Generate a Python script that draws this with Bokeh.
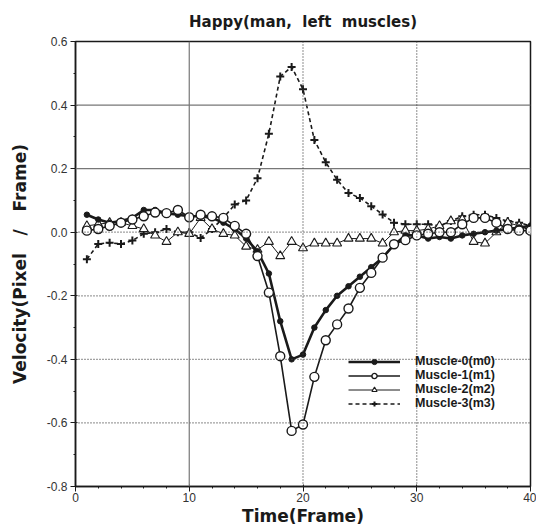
from bokeh.plotting import figure
from bokeh.models import Span, Legend, LegendItem, Range1d, FixedTicker
from bokeh.embed import file_html
from bokeh.resources import INLINE

# ---------------- data ----------------
frames = list(range(1, 41))

muscle0 = [0.055, 0.04, 0.03, 0.035, 0.045, 0.07, 0.07, 0.06, 0.055, 0.05,
           0.05, 0.045, 0.03, 0.01, -0.02, -0.06, -0.13, -0.28, -0.40, -0.385,
           -0.30, -0.245, -0.20, -0.17, -0.14, -0.11, -0.08, -0.04, -0.01, -0.01,
           -0.02, -0.015, -0.02, -0.01, -0.005, 0.0, 0.005, 0.01, 0.015, 0.02]

muscle1 = [0.005, 0.01, 0.02, 0.03, 0.04, 0.05, 0.062, 0.06, 0.07, 0.047,
           0.055, 0.05, 0.045, 0.02, -0.005, -0.075, -0.19, -0.39, -0.625, -0.605,
           -0.455, -0.34, -0.29, -0.24, -0.175, -0.128, -0.08, -0.038, -0.025, -0.01,
           -0.005, 0.0, 0.0, 0.025, 0.045, 0.045, 0.03, 0.01, 0.005, 0.005]

muscle2 = [0.02, 0.025, 0.03, 0.03, 0.02, 0.01, -0.01, -0.03, 0.0, -0.005,
           0.045, 0.01, -0.005, -0.01, -0.045, -0.055, -0.03, -0.075, -0.03, -0.05,
           -0.035, -0.035, -0.035, -0.02, -0.02, -0.02, -0.035, 0.0, 0.005, 0.005,
           0.01, 0.02, 0.035, 0.04, -0.03, -0.035, 0.0, 0.03, 0.02, 0.005]

muscle3 = [-0.085, -0.037, -0.033, -0.037, -0.026, -0.005, 0.0, 0.01, 0.0, 0.0,
           -0.018, 0.01, 0.045, 0.087, 0.1, 0.17, 0.31, 0.49, 0.52, 0.45,
           0.29, 0.22, 0.165, 0.123, 0.108, 0.082, 0.056, 0.03, 0.025, 0.025,
           0.025, 0.02, 0.035, 0.05, 0.055, 0.055, 0.045, 0.035, 0.03, 0.02]

series_labels = ["Muscle-0(m0)", "Muscle-1(m1)", "Muscle-2(m2)", "Muscle-3(m3)"]

y_ticks = [0.6, 0.4, 0.2, 0.0, -0.2, -0.4, -0.6, -0.8]
y_tick_labels = ["0.6", "0.4", "0.2", "0.0", "-0.2", "-0.4", "-0.6", "-0.8"]
y_minor_ticks = [0.5, 0.3, 0.1, -0.1, -0.3, -0.5, -0.7]
x_ticks = [0, 10, 20, 30, 40]
x_minor_ticks = [2, 4, 6, 8, 12, 14, 16, 18, 22, 24, 26, 28, 32, 34, 36, 38]

NB = "\u00a0"
title_text = "Happy(man," + NB + NB + "left" + NB + NB + "muscles)"
x_label = "Time(Frame)"
y_label = "Velocity(Pixel" + NB * 3 + "/" + NB * 3 + "Frame)"

# ---------------- figure ----------------
FONT = "Liberation Sans"
BOLD = "DejaVu Sans"
INK = "#1a1a1a"

p = figure(width=536, height=530, output_backend="svg", toolbar_location=None,
           x_range=Range1d(0, 40), y_range=Range1d(-0.8, 0.6),
           min_border_left=75, min_border_right=6, min_border_top=40,
           min_border_bottom=44)

p.title.text = title_text
p.title.align = "center"
p.title.text_font = BOLD
p.title.text_font_style = "bold"
p.title.text_font_size = "15px"
p.title.text_color = INK
p.title.standoff = 21

p.outline_line_color = INK
p.outline_line_width = 1.5
p.background_fill_color = "white"
p.border_fill_color = "white"

p.xgrid.visible = False
p.ygrid.visible = False

# axes
p.xaxis.ticker = FixedTicker(ticks=x_ticks, minor_ticks=x_minor_ticks)
p.yaxis.ticker = FixedTicker(ticks=y_ticks, minor_ticks=y_minor_ticks)
p.yaxis.major_label_overrides = {t: l for t, l in zip(y_ticks, y_tick_labels)}

for ax in (p.xaxis, p.yaxis):
    ax.axis_line_color = INK
    ax.axis_line_width = 1.5
    ax.major_tick_line_color = INK
    ax.minor_tick_line_color = INK
    ax.major_tick_out = 5
    ax.major_tick_in = 2
    ax.minor_tick_out = 2
    ax.minor_tick_in = 0
    ax.major_label_text_font = FONT
    ax.major_label_text_font_size = "12px"
    ax.major_label_text_color = "#333333"
    ax.axis_label_text_font = BOLD
    ax.axis_label_text_font_style = "bold"
    ax.axis_label_text_color = INK

p.xaxis.axis_label = x_label
p.xaxis.axis_label_text_font_size = "17px"
p.xaxis.major_label_standoff = 1
p.xaxis.axis_label_standoff = 1

p.yaxis.axis_label = y_label
p.yaxis.axis_label_text_font_size = "17px"
p.yaxis.major_label_standoff = 3
p.yaxis.axis_label_standoff = 14

# grid lines (solid gray in the upper half, dotted elsewhere)
for yv in (0.4, 0.2):
    p.add_layout(Span(location=yv, dimension="width", line_color="#777777", line_width=1.2))
for yv in (0.0, -0.2, -0.4, -0.6):
    p.add_layout(Span(location=yv, dimension="width", line_color="#444444",
                      line_width=1.2, line_dash="1 2"))
p.add_layout(Span(location=10, dimension="height", line_color="#777777", line_width=1.2))
for xv in (20, 30):
    p.add_layout(Span(location=xv, dimension="height", line_color="#444444",
                      line_width=1.2, line_dash="1 2"))

# series
l3 = p.line(frames, muscle3, line_color=INK, line_width=1.6, line_dash="4 3")
s3 = p.scatter(frames, muscle3, marker="cross", size=8, line_color=INK, line_width=2)

l2 = p.line(frames, muscle2, line_color=INK, line_width=1.0)
s2 = p.scatter(frames, muscle2, marker="triangle", size=9, fill_color="white",
               line_color=INK, line_width=1.1)

l0 = p.line(frames, muscle0, line_color=INK, line_width=2.6)
s0 = p.scatter(frames, muscle0, marker="circle", size=5.5, fill_color=INK, line_color=INK)

l1 = p.line(frames, muscle1, line_color=INK, line_width=1.6)
s1 = p.scatter(frames, muscle1, marker="circle", size=9, fill_color="white",
               line_color=INK, line_width=1.4)

legend = Legend(items=[
    LegendItem(label=series_labels[0], renderers=[l0, s0]),
    LegendItem(label=series_labels[1], renderers=[l1, s1]),
    LegendItem(label=series_labels[2], renderers=[l2, s2]),
    LegendItem(label=series_labels[3], renderers=[l3, s3]),
], location=(273, 76))
legend.border_line_color = None
legend.background_fill_alpha = 0.0
legend.label_text_font = FONT
legend.label_text_font_style = "bold"
legend.label_text_font_size = "12.5px"
legend.label_text_color = INK
legend.glyph_width = 52
legend.glyph_height = 13
legend.label_height = 13
legend.spacing = 0
legend.padding = 2
legend.margin = 0
legend.label_standoff = 15
p.add_layout(legend)

open("out.html", "w").write(file_html(p, INLINE))
